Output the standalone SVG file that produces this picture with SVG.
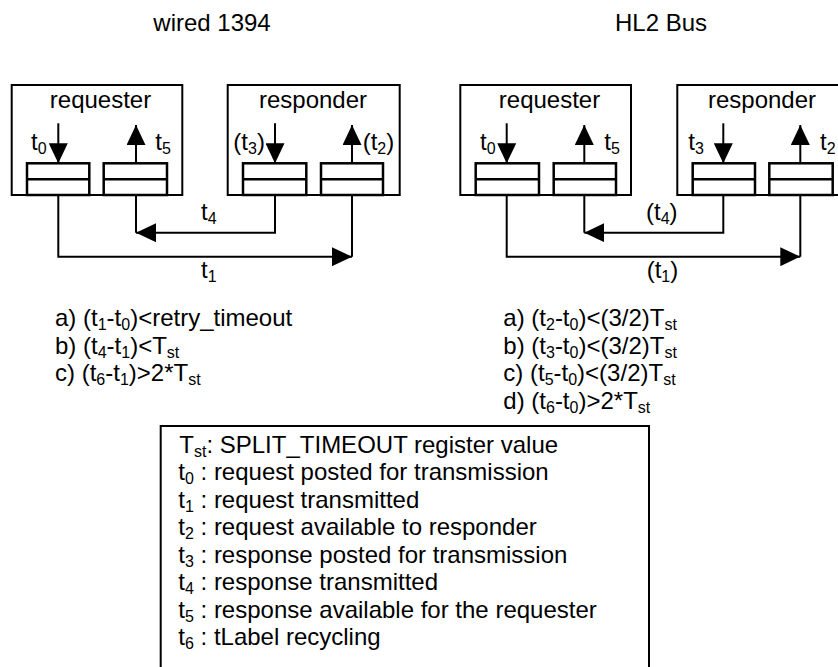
<svg xmlns="http://www.w3.org/2000/svg" width="838" height="667" viewBox="0 0 838 667">
  <style>
    text { font-family: "Liberation Sans", Arial, sans-serif; font-size: 24px; fill: #000; }
    .mid { text-anchor: middle; }
    .sub { font-size: 16px; }
    .box { fill: #fff; stroke: #000; stroke-width: 2; }
    .buf { fill: #fff; stroke: #000; stroke-width: 2.5; }
    .bufline { stroke: #000; stroke-width: 2.5; }
    .wire { fill: none; stroke: #000; stroke-width: 2; }
    .arrow { fill: none; stroke: #000; stroke-width: 2; marker-end: url(#head); }
  </style>
  <defs>
    <marker id="head" markerUnits="userSpaceOnUse" markerWidth="20" markerHeight="19" refX="20" refY="9.5" orient="auto">
      <path d="M0,0 L20,9.5 L0,19 Z" fill="#000"/>
    </marker>
  </defs>
  <rect width="838" height="667" fill="#fff"/>

  <!-- column titles -->
  <text x="153.3" y="31">wired 1394</text>
  <text x="615" y="31">HL2 Bus</text>

  <!-- wired 1394: requester -->
  <g id="wired-requester">
    <rect class="box" x="11.7" y="85" width="170.6" height="110"/>
    <text class="mid" x="100.5" y="108">requester</text>
    <rect class="buf" x="27" y="163.3" width="62.3" height="31.7"/>
    <line class="bufline" x1="27" y1="179.3" x2="89.3" y2="179.3"/>
    <rect class="buf" x="103.7" y="163.3" width="63.3" height="31.7"/>
    <line class="bufline" x1="103.7" y1="179.3" x2="167" y2="179.3"/>
    <path class="arrow" d="M58.3,123.3 V163.3"/>
    <path class="arrow" d="M136,163.3 V125"/>
    <text x="31" y="150">t<tspan class="sub" dy="4">0</tspan></text>
    <text x="155.3" y="150">t<tspan class="sub" dy="4">5</tspan></text>
  </g>

  <!-- wired 1394: responder -->
  <g id="wired-responder">
    <rect class="box" x="227.7" y="85" width="172" height="110"/>
    <text class="mid" x="313" y="108">responder</text>
    <rect class="buf" x="243" y="163.3" width="63.3" height="31.7"/>
    <line class="bufline" x1="243" y1="179.3" x2="306.3" y2="179.3"/>
    <rect class="buf" x="321" y="163.3" width="62" height="31.7"/>
    <line class="bufline" x1="321" y1="179.3" x2="383" y2="179.3"/>
    <path class="arrow" d="M275,123.3 V163.3"/>
    <path class="arrow" d="M352,163.3 V125"/>
    <text x="233.3" y="150">(t<tspan class="sub" dy="4">3</tspan><tspan dy="-4">)</tspan></text>
    <text x="362.7" y="150">(t<tspan class="sub" dy="4">2</tspan><tspan dy="-4">)</tspan></text>
  </g>

  <!-- HL2 Bus: requester -->
  <g id="hl2-requester">
    <rect class="box" x="460.3" y="85" width="170.7" height="110"/>
    <text class="mid" x="549.5" y="108">requester</text>
    <rect class="buf" x="475.7" y="163.3" width="63.3" height="31.7"/>
    <line class="bufline" x1="475.7" y1="179.3" x2="539" y2="179.3"/>
    <rect class="buf" x="553.7" y="163.3" width="62.3" height="31.7"/>
    <line class="bufline" x1="553.7" y1="179.3" x2="616" y2="179.3"/>
    <path class="arrow" d="M506.7,123.3 V163.3"/>
    <path class="arrow" d="M584.3,163.3 V125"/>
    <text x="480" y="150">t<tspan class="sub" dy="4">0</tspan></text>
    <text x="604.3" y="150">t<tspan class="sub" dy="4">5</tspan></text>
  </g>

  <!-- HL2 Bus: responder (runs past the right edge) -->
  <g id="hl2-responder">
    <rect class="box" x="677.3" y="85" width="172" height="110"/>
    <text class="mid" x="762" y="108">responder</text>
    <rect class="buf" x="692.7" y="163.3" width="62.3" height="31.7"/>
    <line class="bufline" x1="692.7" y1="179.3" x2="755" y2="179.3"/>
    <rect class="buf" x="769.3" y="163.3" width="63.4" height="31.7"/>
    <line class="bufline" x1="769.3" y1="179.3" x2="832.7" y2="179.3"/>
    <path class="arrow" d="M723.3,123.3 V163.3"/>
    <path class="arrow" d="M800.3,163.3 V125"/>
    <text x="688.3" y="150">t<tspan class="sub" dy="4">3</tspan></text>
    <text x="820" y="150">t<tspan class="sub" dy="4">2</tspan></text>
  </g>

  <!-- transfers between the queues -->
  <g id="connectors">
    <path class="arrow" d="M275,195 V232.7 H136"/>
    <path class="wire" d="M136,195 V232.7"/>
    <path class="arrow" d="M58.3,195 V256.7 H352"/>
    <path class="wire" d="M352,195 V256.7"/>
    <text x="201" y="220">t<tspan class="sub" dy="4">4</tspan></text>
    <text x="201" y="278">t<tspan class="sub" dy="4">1</tspan></text>

    <path class="arrow" d="M723.3,195 V232.7 H584.3"/>
    <path class="wire" d="M584.3,195 V232.7"/>
    <path class="arrow" d="M506.7,195 V256.7 H800.3"/>
    <path class="wire" d="M800.3,195 V256.7"/>
    <text x="646" y="220">(t<tspan class="sub" dy="4">4</tspan><tspan dy="-4">)</tspan></text>
    <text x="646.7" y="278">(t<tspan class="sub" dy="4">1</tspan><tspan dy="-4">)</tspan></text>
  </g>

  <!-- timing conditions, wired 1394 -->
  <g id="wired-conditions">
    <text x="55" y="326">a) (t<tspan class="sub" dy="4">1</tspan><tspan dy="-4">-t</tspan><tspan class="sub" dy="4">0</tspan><tspan dy="-4">)&lt;retry_timeout</tspan></text>
    <text x="55" y="353.5">b) (t<tspan class="sub" dy="4">4</tspan><tspan dy="-4">-t</tspan><tspan class="sub" dy="4">1</tspan><tspan dy="-4">)&lt;T</tspan><tspan class="sub" dy="4">st</tspan></text>
    <text x="55" y="381">c) (t<tspan class="sub" dy="4">6</tspan><tspan dy="-4">-t</tspan><tspan class="sub" dy="4">1</tspan><tspan dy="-4">)&gt;2*T</tspan><tspan class="sub" dy="4">st</tspan></text>
  </g>

  <!-- timing conditions, HL2 Bus -->
  <g id="hl2-conditions">
    <text x="503.3" y="326">a) (t<tspan class="sub" dy="4">2</tspan><tspan dy="-4">-t</tspan><tspan class="sub" dy="4">0</tspan><tspan dy="-4">)&lt;(3/2)T</tspan><tspan class="sub" dy="4">st</tspan></text>
    <text x="503.3" y="353.5">b) (t<tspan class="sub" dy="4">3</tspan><tspan dy="-4">-t</tspan><tspan class="sub" dy="4">0</tspan><tspan dy="-4">)&lt;(3/2)T</tspan><tspan class="sub" dy="4">st</tspan></text>
    <text x="503.3" y="381">c) (t<tspan class="sub" dy="4">5</tspan><tspan dy="-4">-t</tspan><tspan class="sub" dy="4">0</tspan><tspan dy="-4">)&lt;(3/2)T</tspan><tspan class="sub" dy="4">st</tspan></text>
    <text x="503.3" y="408.5">d) (t<tspan class="sub" dy="4">6</tspan><tspan dy="-4">-t</tspan><tspan class="sub" dy="4">0</tspan><tspan dy="-4">)&gt;2*T</tspan><tspan class="sub" dy="4">st</tspan></text>
  </g>

  <!-- legend (box runs past the bottom edge) -->
  <g id="legend">
    <rect class="box" x="160.7" y="426" width="488.3" height="260"/>
    <text x="179.3" y="452.7">T<tspan class="sub" dy="4">st</tspan><tspan dy="-4">: SPLIT_TIMEOUT register value</tspan></text>
    <text x="178.3" y="480.2">t<tspan class="sub" dy="4">0</tspan><tspan dy="-4"> : request posted for transmission</tspan></text>
    <text x="178.3" y="507.7">t<tspan class="sub" dy="4">1</tspan><tspan dy="-4"> : request transmitted</tspan></text>
    <text x="178.3" y="535.2">t<tspan class="sub" dy="4">2</tspan><tspan dy="-4"> : request available to responder</tspan></text>
    <text x="178.3" y="562.7">t<tspan class="sub" dy="4">3</tspan><tspan dy="-4"> : response posted for transmission</tspan></text>
    <text x="178.3" y="590.2">t<tspan class="sub" dy="4">4</tspan><tspan dy="-4"> : response transmitted</tspan></text>
    <text x="178.3" y="617.7">t<tspan class="sub" dy="4">5</tspan><tspan dy="-4"> : response available for the requester</tspan></text>
    <text x="178.3" y="645.2">t<tspan class="sub" dy="4">6</tspan><tspan dy="-4"> : tLabel recycling</tspan></text>
  </g>
</svg>
